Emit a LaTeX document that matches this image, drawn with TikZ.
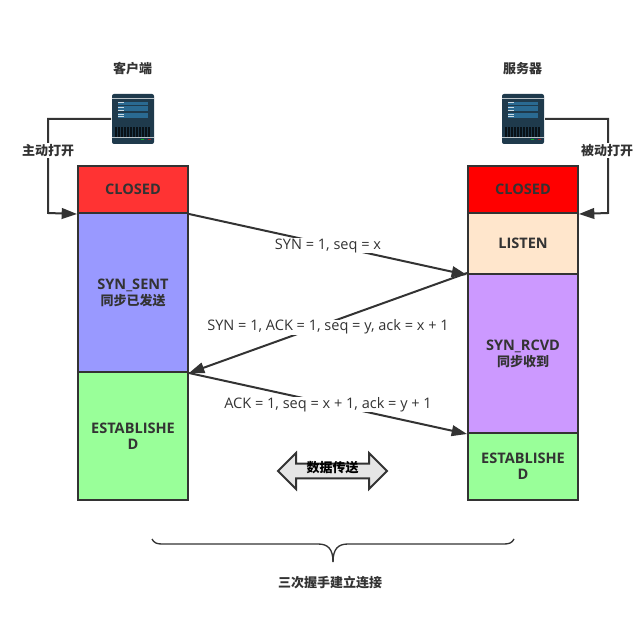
\documentclass[tikz,border=0pt]{standalone}
\usepackage{fontspec}
\setmainfont{Open Sans}
\newfontfamily\cjk{Noto Sans CJK SC}
\usetikzlibrary{arrows.meta, shapes.arrows}
\definecolor{cline}{HTML}{333333}
\definecolor{credone}{HTML}{FF3333}
\definecolor{credtwo}{HTML}{FF0000}
\definecolor{cblue}{HTML}{9999FF}
\definecolor{cgreen}{HTML}{99FF99}
\definecolor{corange}{HTML}{FFE6CC}
\definecolor{cpurple}{HTML}{CC99FF}
\definecolor{cicon}{HTML}{1F3A4C}
\definecolor{cpanel}{HTML}{2A6A92}
\tikzset{
  every picture/.style={x=0.75pt, y=-0.75pt, font=\fontsize{10.9}{12}\selectfont, text=cline, line width=1.5pt},
  statebox/.style={draw=cline, fill=#1, align=center, minimum width=82.5pt, inner sep=0pt, font=\fontsize{10.9}{12}\selectfont\bfseries, text width=78pt},
  arrow/.style={-{Triangle[length=11.5pt, width=8pt]}, draw=cline},
  title/.style={font=\fontsize{9.75}{12}\selectfont\bfseries\cjk},
  note/.style={fill=white, inner sep=0pt, minimum height=11.25pt},
}
\newcommand{\zh}[1]{{\cjk\fontsize{9.75}{12}\selectfont #1}}
\newcommand{\servericon}[3]{
  \node[fill=cicon, rounded corners=1.5pt, minimum width=31.5pt, minimum height=37.5pt, inner sep=0pt] (#1) at (#2,#3) {};
  \begin{scope}[shift={(#2,#3)}]
    \draw[draw=white!70!cicon, line width=0.5pt] (-21,-21) -- (21,-21);
    \draw[draw=white!70!cicon, line width=0.5pt] (-21,18.5) -- (21,18.5);
    \fill[cpanel] (-15,-17) rectangle (15,-13.5);
    \fill[cpanel] (-15,-12.5) rectangle (15,-7.5);
    \fill[cpanel] (-15,-5.5) rectangle (15,-1);
    \foreach \y in {-16.3,-11.7,-8.7,-4.7,-2.3} {
      \fill[white!75!cpanel] (-15,\y-0.5) rectangle (-9,\y+0.5);
    }
    \foreach \x in {-17,-14,...,17} {
      \fill[black!70!cicon] (\x-1,8) rectangle (\x+1,18);
    }
    \fill[green!60!cicon] (8,20.5) rectangle (11,21.5);
    \fill[red!60!cicon] (15,20.5) rectangle (18,21.5);
  \end{scope}
}
\begin{document}
\begin{tikzpicture}
  \useasboundingbox (0,0) rectangle (638,634);
  % client column
  \node[statebox=credone, minimum height=35.25pt] (cclosed) at (133,189.5) {CLOSED};
  \node[statebox=cblue, minimum height=119.25pt] (csent) at (133,292.5) {SYN\_SENT\\\zh{同步已发送}};
  \node[statebox=cgreen, minimum height=96pt] (cest) at (133,436) {ESTABLISHE\\D};
  % server column
  \node[statebox=credtwo, minimum height=35.25pt] (sclosed) at (523,189.5) {CLOSED};
  \node[statebox=corange, minimum height=45.75pt] (slisten) at (523,243.5) {LISTEN};
  \node[statebox=cpurple, minimum height=119.25pt] (srcvd) at (523,353.5) {SYN\_RCVD\\\zh{同步收到}};
  \node[statebox=cgreen, minimum height=50.25pt] (sest) at (523,466.5) {ESTABLISHE\\D};
  % hosts
  \node[title] (clientname) at (132.5,69) {客户端};
  \node[title] (servername) at (522.5,69) {服务器};
  \servericon{clienticon}{133}{119}
  \servericon{servericon}{523}{119}
  \coordinate (cbend) at (48,213);
  \coordinate (sbend) at (608,213);
  \draw[arrow] (clienticon.west) -| (cbend) -- (cclosed.south west);
  \draw[arrow] (servericon.east) -| (sbend) -- (sclosed.south east);
  \node[title, fill=white, inner sep=1pt] (copen) at (48,150.5) {主动打开};
  \node[title, fill=white, inner sep=1pt] (sopen) at (607,150.5) {被动打开};
  % handshake
  \draw[arrow] (cclosed.south east) -- node[note, yshift=-1pt] (syn) {SYN = 1, seq = x} (slisten.south west);
  \draw[arrow] (srcvd.north west) -- node[note, yshift=-3pt] (synack) {SYN = 1, ACK = 1, seq = y, ack = x + 1} (csent.south east);
  \draw[arrow] (csent.south east) -- node[note, yshift=-0.75pt] (ack) {ACK = 1, seq = x + 1, ack = y + 1} (srcvd.south west);
  % data transfer
  \node[double arrow, draw=cline, fill=black!10, double arrow head extend=8pt, minimum height=81.75pt, inner xsep=0pt, inner ysep=0pt, text height=6pt, text depth=3.5pt, text width=40pt, align=center, title, text=black] (data) at (332.5,471) {数据传送};
  % brace
  \draw[line width=1pt, draw=cline] (152,539) .. controls (154,543) and (157,544) .. (162,544) -- (318,544) .. controls (328,544) and (333,549) .. (333,562);
  \draw[line width=1pt, draw=cline] (514,539) .. controls (512,543) and (509,544) .. (504,544) -- (348,544) .. controls (338,544) and (333,549) .. (333,562);
  \node[title] (summary) at (330,583) {三次握手建立连接};
\end{tikzpicture}
\end{document}
